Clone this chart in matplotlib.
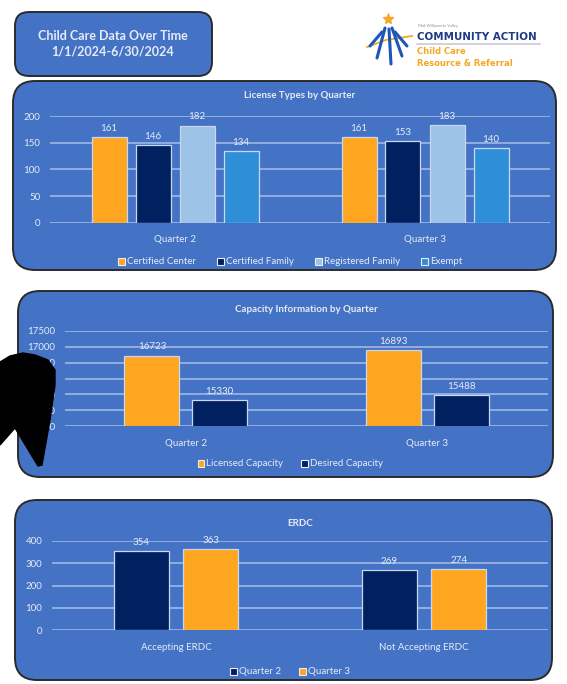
import numpy as np
import matplotlib.pyplot as plt
from matplotlib.patches import FancyBboxPatch, Polygon, Patch

# --- data ---
quarters = ['Quarter 2', 'Quarter 3']
license_types = ['Certified Center', 'Certified Family', 'Registered Family', 'Exempt']
license_counts = [[161, 161], [146, 153], [182, 183], [134, 140]]

capacity_types = ['Licensed Capacity', 'Desired Capacity']
capacity_counts = [[16723, 16893], [15330, 15488]]

erdc_cats = ['Accepting ERDC', 'Not Accepting ERDC']
erdc_series = ['Quarter 2', 'Quarter 3']
erdc_counts = [[354, 269], [363, 274]]

# --- style ---
W, H = 567, 684
PANEL = '#4472C4'
ORANGE = '#FFA620'
NAVY = '#002060'
LIGHT = '#9DC3E6'
MID = '#2E8FD8'
TXT = '#E6ECF7'
GRID = '#A8BEE6'
plt.rcParams['font.family'] = ['Lato', 'DejaVu Sans']

fig = plt.figure(figsize=(W / 100, H / 100), dpi=100)
fig.patch.set_facecolor('white')


def fx(px):
    return px / W


def fy(py):
    return 1 - py / H


def rbox(x0, y0, x1, y1, rad=22):
    # rounded panel, pixel coords
    p = FancyBboxPatch((fx(x0 + rad), fy(y1 - rad)), fx(x1 - x0 - 2 * rad), (y1 - y0 - 2 * rad) / H,
                       boxstyle=f'round,pad={rad / W},rounding_size={rad / W}',
                       transform=fig.transFigure, facecolor=PANEL, edgecolor='#2b2b2b',
                       linewidth=1.4, mutation_aspect=W / H, zorder=-5)
    fig.patches.append(p)


def chart(x0, x1, ytop, ybot, ylim, series, names, colors, cats, width, step,
          title, title_y, legend_y, ticks, colsp):
    ax = fig.add_axes([fx(x0), fy(ybot), (x1 - x0) / W, (ybot - ytop) / H])
    ax.set_facecolor('none')
    n = len(series)
    centers = np.arange(len(cats)) + 0.5
    for i, (vals, nm, c) in enumerate(zip(series, names, colors)):
        off = (i - (n - 1) / 2) * step
        bars = ax.bar(centers + off, vals, width, color=c, edgecolor='#C9D8F0',
                      linewidth=0.9, label=nm, zorder=3)
        ax.bar_label(bars, labels=[str(v) for v in vals], padding=3, color=TXT, fontsize=7)
    ax.set_xlim(0, len(cats))
    ax.set_ylim(*ylim)
    ax.set_yticks(ticks)
    ax.set_yticklabels([str(t) for t in ticks])
    ax.yaxis.grid(True, color=GRID, linewidth=1.1, zorder=0)
    ax.set_xticks(centers)
    ax.set_xticklabels(cats)
    ax.tick_params(axis='both', length=0, colors=TXT, labelsize=7)
    ax.tick_params(axis='x', pad=9)
    ax.tick_params(axis='y', pad=7)
    for s in ax.spines.values():
        s.set_visible(False)
    ax.set_axisbelow(True)
    fig.text(fx((x0 + x1) / 2), fy(title_y), title, color=TXT, fontsize=7,
             fontweight='bold', ha='center', va='center')
    handles = [Patch(facecolor=c, edgecolor='#E8EEF8', linewidth=0.8, label=nm)
               for nm, c in zip(names, colors)]
    leg = fig.legend(handles=handles, loc='center', bbox_to_anchor=(fx(290), fy(legend_y)),
                     ncol=len(names), frameon=False, fontsize=7, handlelength=0.7,
                     handleheight=0.7, handletextpad=0.2, columnspacing=colsp)
    for t in leg.get_texts():
        t.set_color(TXT)
    return ax


# header box
rbox(15, 12, 212, 76, rad=14)
fig.text(fx(113), fy(44), 'Child Care Data Over Time\n1/1/2024-6/30/2024', color=TXT,
         fontsize=9, fontweight='bold', ha='center', va='center', linespacing=1.35)

# logo
fig.text(fx(418), fy(27), 'Mid-Willamette Valley', color='#8A93A8', fontsize=3)
fig.text(fx(417), fy(37), 'COMMUNITY ACTION', color='#1F3C88', fontsize=7.4,
         fontweight='bold', va='center', family='DejaVu Sans')
fig.add_artist(plt.Line2D([fx(417), fx(540)], [fy(44), fy(44)], color='#C6CCD8',
                          linewidth=1.2, transform=fig.transFigure))
fig.text(fx(417), fy(52), 'Child Care', color='#F5A623', fontsize=6, fontweight='bold',
         va='center', family='DejaVu Sans')
fig.text(fx(417), fy(63), 'Resource & Referral', color='#F5A623', fontsize=6,
         fontweight='bold', va='center', family='DejaVu Sans')
fig.add_artist(plt.Line2D([fx(367), fx(386), fx(412)], [fy(47), fy(40), fy(36)],
                          color='#F5A623', linewidth=1.3, transform=fig.transFigure))
fig.add_artist(plt.Line2D([fx(388)], [fy(19)], marker='*', markersize=8, color='#F5A623',
                          transform=fig.transFigure))
for (xa, ya, xb, yb) in [(385, 28, 377, 58), (389, 29, 391, 64), (392, 28, 402, 56),
                         (382, 32, 370, 46), (395, 32, 407, 46)]:
    fig.add_artist(plt.Line2D([fx(xa), fx(xb)], [fy(ya), fy(yb)], color='#1D55B8',
                              linewidth=2.2, solid_capstyle='round',
                              transform=fig.transFigure))

# panel 1
rbox(13, 81, 556, 270)
chart(50, 550, 116, 223, (0, 200), license_counts, license_types,
      [ORANGE, NAVY, LIGHT, MID], quarters, 0.14, 0.176,
      'License Types by Quarter', 96, 262, [0, 50, 100, 150, 200], 2.2)

# panel 2
rbox(18, 291, 553, 477)
chart(65, 548, 331, 426, (14500, 17500), capacity_counts, capacity_types,
      [ORANGE, NAVY], quarters, 0.228, 0.28,
      'Capacity Information by Quarter', 310, 464,
      [14500, 15000, 15500, 16000, 16500, 17000, 17500], 1.8)

# panel 3
rbox(15, 500, 552, 680)
chart(52, 548, 541, 630, (0, 400), erdc_counts, erdc_series,
      [NAVY, ORANGE], erdc_cats, 0.223, 0.28,
      'ERDC', 523, 672, [0, 100, 200, 300, 400], 1.8)

# black blob covering the left edge of the capacity chart
blob = [(0, 362), (10, 356), (23, 353), (35, 355), (48, 360), (55, 370), (55, 385),
        (50, 420), (42, 465), (38, 466), (15, 428), (0, 445)]
fig.patches.append(Polygon([(fx(x), fy(y)) for x, y in blob], closed=True,
                           transform=fig.transFigure, facecolor='black',
                           edgecolor='black', zorder=10))

fig.savefig('out.png', dpi=100)
